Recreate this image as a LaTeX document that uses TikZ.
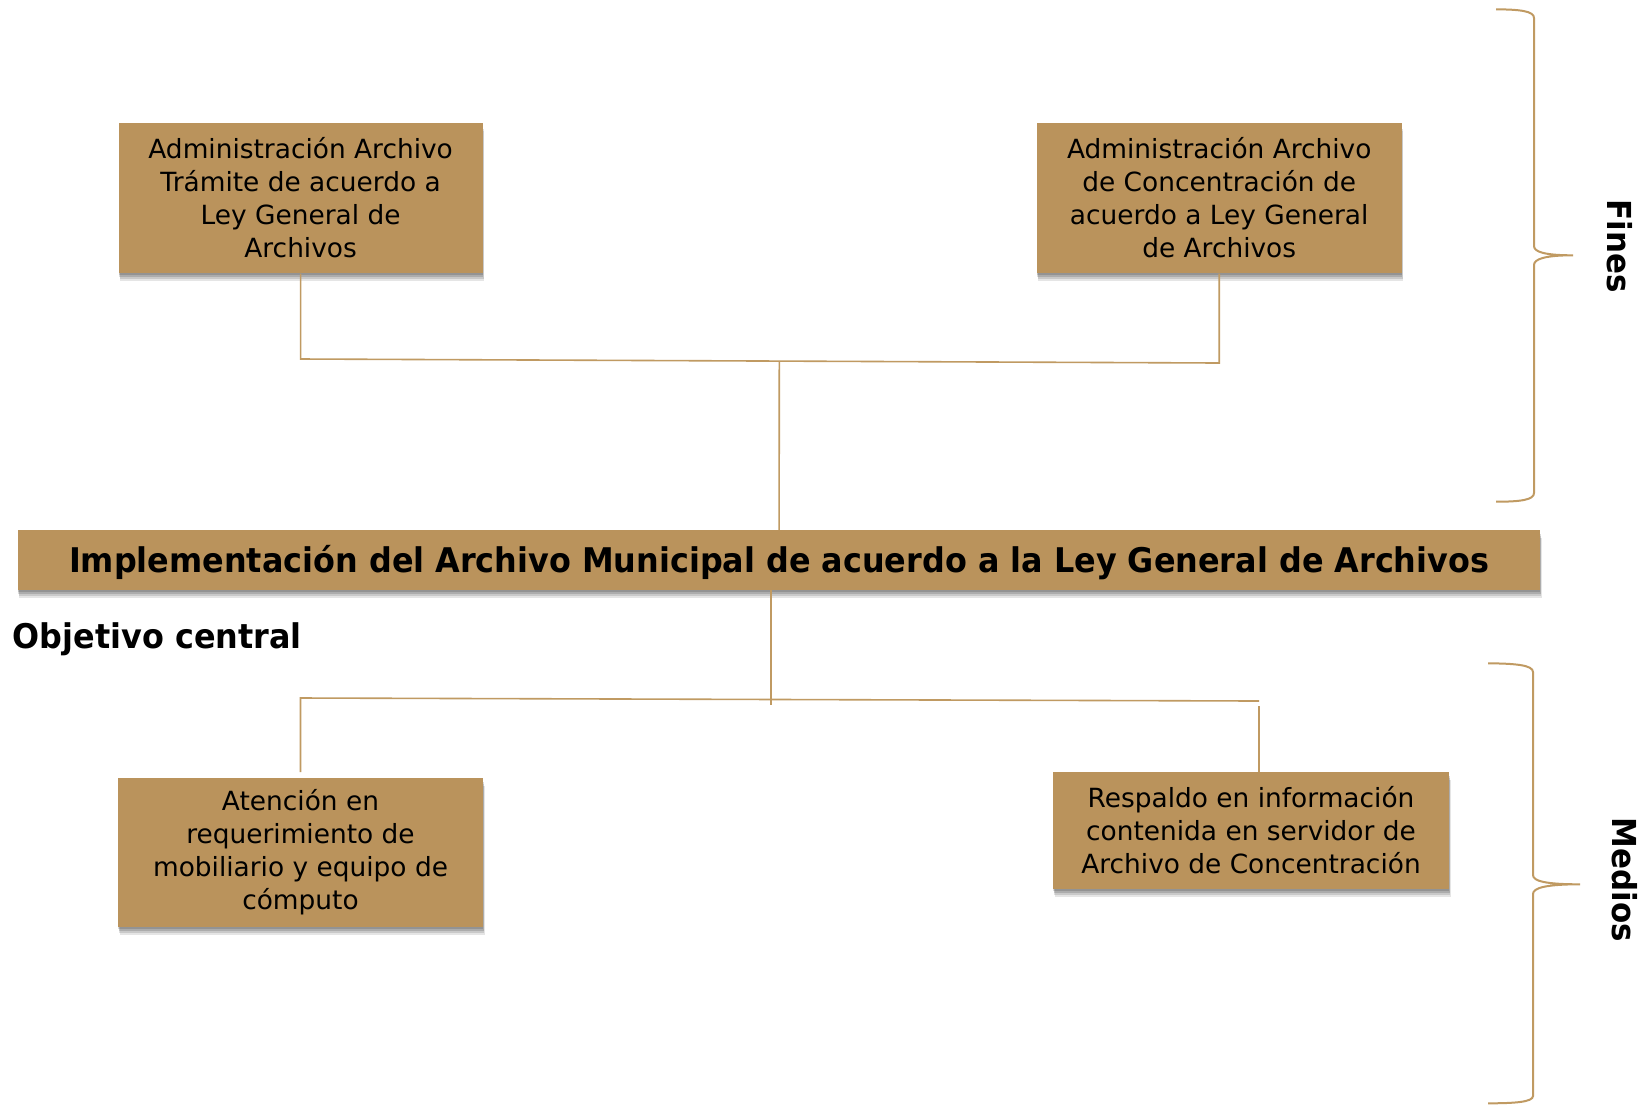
\documentclass[tikz,border=0pt]{standalone}
\usepackage{fontspec}
\setmainfont{DejaVu Sans}
\newfontfamily\titlefont[FakeStretch=0.937]{DejaVu Sans}
\definecolor{boxfill}{RGB}{186,147,92}
\definecolor{linecol}{RGB}{192,154,98}
\tikzset{
  shd/.style={preaction={fill=black, fill opacity=#1}},
  bx/.style={fill=boxfill, draw=none, inner sep=0pt, align=center,
    preaction={fill=black, fill opacity=0.10, transform canvas={xshift=1.5pt, yshift=-8pt}},
    preaction={fill=black, fill opacity=0.12, transform canvas={xshift=1pt, yshift=-6pt}},
    preaction={fill=black, fill opacity=0.14, transform canvas={xshift=0.5pt, yshift=-4pt}},
    preaction={fill=black, fill opacity=0.14, transform canvas={yshift=-2pt}},
    font=\fontsize{26.4}{33}\selectfont},
  conn/.style={draw=linecol, line width=1.6pt},
  bracepath/.style={draw=linecol, line width=2pt},
  lbl/.style={font=\titlefont\bfseries\fontsize{33}{38}\selectfont, rotate=-90, inner sep=0pt},
  ttl/.style={font=\titlefont\bfseries\fontsize{34}{40}\selectfont}
}
\begin{document}
\begin{tikzpicture}[x=1pt,y=-1pt]
\useasboundingbox[fill=white] (0,0) rectangle (1646,1104);

% Fines boxes
\node[bx, minimum width=364pt, minimum height=150.6pt] (f1) at (300.6,198)
  {Administración Archivo\\Trámite de acuerdo a\\Ley General de\\Archivos};
\node[bx, minimum width=365pt, minimum height=150.6pt] (f2) at (1219.2,198)
  {Administración Archivo\\de Concentración de\\acuerdo a Ley General\\de Archivos};

% central objective
\node[bx, ttl, text height=25pt, text depth=0pt, minimum width=1522.7pt, minimum height=60pt] (obj) at (779.1,560)
  {Implementación del Archivo Municipal de acuerdo a la Ley General de Archivos};
\node[ttl, anchor=base west, inner sep=0pt] (oc) at (12.6,648) {Objetivo central};

% Medios boxes
\node[bx, minimum width=365pt, minimum height=149.3pt] (m1) at (300.5,852.4)
  {Atención en\\requerimiento de\\mobiliario y equipo de\\cómputo};
\node[bx, minimum width=396pt, minimum height=117.3pt] (m2) at (1251,830.4)
  {Respaldo en información\\contenida en servidor de\\Archivo de Concentración};

% top connectors
\coordinate (j1) at (300.6,359);
\coordinate (j2) at (1219.2,363);
\coordinate (j3) at (779.3,361);
\draw[conn] (f1.south) -- (j1) -- (j2) -- (f2.south);
\draw[conn] (j3) -- (obj.north);

% bottom connectors
\coordinate (k0) at (771,705);
\coordinate (k1) at (300.5,698);
\coordinate (k2) at (1259,701);
\coordinate (k3) at (300.5,772);
\coordinate (k4) at (1259,706);
\draw[conn] (obj.south -| k0) -- (k0);
\draw[conn] (k3) -- (k1) -- (k2);
\draw[conn] (k4) -- (m2.north -| k4);

% braces
\draw[bracepath] (1496,9.3) .. controls (1520,9.5) and (1534,11) .. (1534,18)
  -- (1534,246) .. controls (1534,252) and (1545,255.3) .. (1573,255.3)
  .. controls (1545,255.3) and (1534,259) .. (1534,265)
  -- (1534,493) .. controls (1534,500) and (1520,501.7) .. (1496,501.7);
\draw[bracepath] (1488,663.3) .. controls (1515,663.5) and (1533,665) .. (1533,672)
  -- (1533,875) .. controls (1533,881) and (1545,884.3) .. (1580,884.3)
  .. controls (1545,884.3) and (1533,888) .. (1533,894)
  -- (1533,1096) .. controls (1533,1102) and (1515,1103.3) .. (1488,1103.3);

\node[lbl] (fines) at (1620,246) {Fines};
\node[lbl] (medios) at (1625,880) {Medios};
\end{tikzpicture}
\end{document}
